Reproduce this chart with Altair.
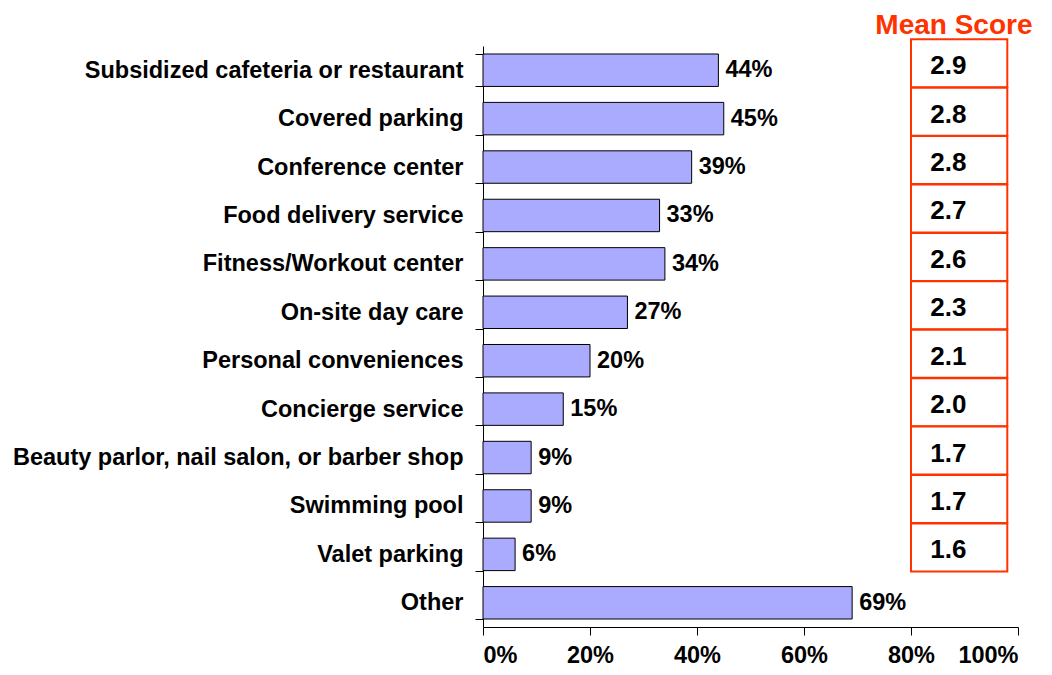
import altair as alt
import pandas as pd

categories = [
    "Subsidized cafeteria or restaurant",
    "Covered parking",
    "Conference center",
    "Food delivery service",
    "Fitness/Workout center",
    "On-site day care",
    "Personal conveniences",
    "Concierge service",
    "Beauty parlor, nail salon, or barber shop",
    "Swimming pool",
    "Valet parking",
    "Other",
]
percent = [44, 45, 39, 33, 34, 27, 20, 15, 9, 9, 6, 69]
mean_scores = [2.9, 2.8, 2.8, 2.7, 2.6, 2.3, 2.1, 2.0, 1.7, 1.7, 1.6]

FONT = "Liberation Sans"
RED = "#FF3300"
FS = 23.5

bars_df = pd.DataFrame({"cat": categories, "pct": [p / 100 for p in percent]})
bars_df["label"] = [f"{p}%" for p in percent]

mean_df = pd.DataFrame({
    "cat": categories[: len(mean_scores)],
    "score": [f"{m:.1f}" for m in mean_scores],
    "x0": [0.80] * len(mean_scores),
    "x1": [0.98] * len(mean_scores),
    "xt": [0.87] * len(mean_scores),
})

y_enc = alt.Y(
    "cat:N",
    sort=categories,
    scale=alt.Scale(paddingInner=0.33, paddingOuter=0.165),
    axis=alt.Axis(
        title=None,
        labelFontSize=FS,
        labelFontWeight="bold",
        labelColor="black",
        labelFont=FONT,
        labelPadding=12,
        labelLimit=600,
        tickSize=8,
        tickColor="black",
        domainColor="black",
        tickBand="extent",
    ),
)

x_scale = alt.Scale(domain=[0, 1], nice=False)

bars = alt.Chart(bars_df).mark_bar(
    color="#AAAAFF", stroke="black", strokeWidth=1
).encode(
    y=y_enc,
    x=alt.X(
        "pct:Q",
        scale=x_scale,
        axis=alt.Axis(
            title=None,
            format=".0%",
            values=[0, 0.2, 0.4, 0.6, 0.8, 1.0],
            grid=False,
            labelFontSize=FS,
            labelFontWeight="bold",
            labelColor="black",
            labelFont=FONT,
            labelPadding=8,
            tickSize=8,
            tickColor="black",
            domainColor="black",
        ),
    ),
)

value_labels = alt.Chart(bars_df).mark_text(
    align="left", baseline="middle", dx=7, fontSize=FS, fontWeight="bold",
    font=FONT, color="black"
).encode(
    y=alt.Y("cat:N", sort=categories),
    x=alt.X("pct:Q", scale=x_scale),
    text="label:N",
)

boxes = alt.Chart(mean_df).mark_bar(
    fill="white", stroke=RED, strokeWidth=2, height=48, yOffset=-7
).encode(
    y=alt.Y("cat:N", sort=categories),
    x=alt.X("x0:Q", scale=x_scale),
    x2="x1:Q",
)

box_text = alt.Chart(mean_df).mark_text(
    align="center", baseline="middle", fontSize=26, fontWeight="bold",
    font=FONT, color="black", yOffset=-4
).encode(
    y=alt.Y("cat:N", sort=categories),
    x=alt.X("xt:Q", scale=x_scale),
    text="score:N",
)

chart = alt.layer(bars, value_labels, boxes, box_text).properties(
    width=535,
    height=581,
    title=alt.TitleParams(
        "Mean Score",
        anchor="end",
        color=RED,
        fontSize=28,
        fontWeight="bold",
        font=FONT,
        dx=14,
        dy=16,
        offset=10,
    ),
    autosize=alt.AutoSizeParams(type="none"),
    padding={"left": 475, "top": 38, "right": 25, "bottom": 40},
).configure_view(stroke=None)

chart.save("out.html", embed_options={"renderer": "svg", "actions": False})
